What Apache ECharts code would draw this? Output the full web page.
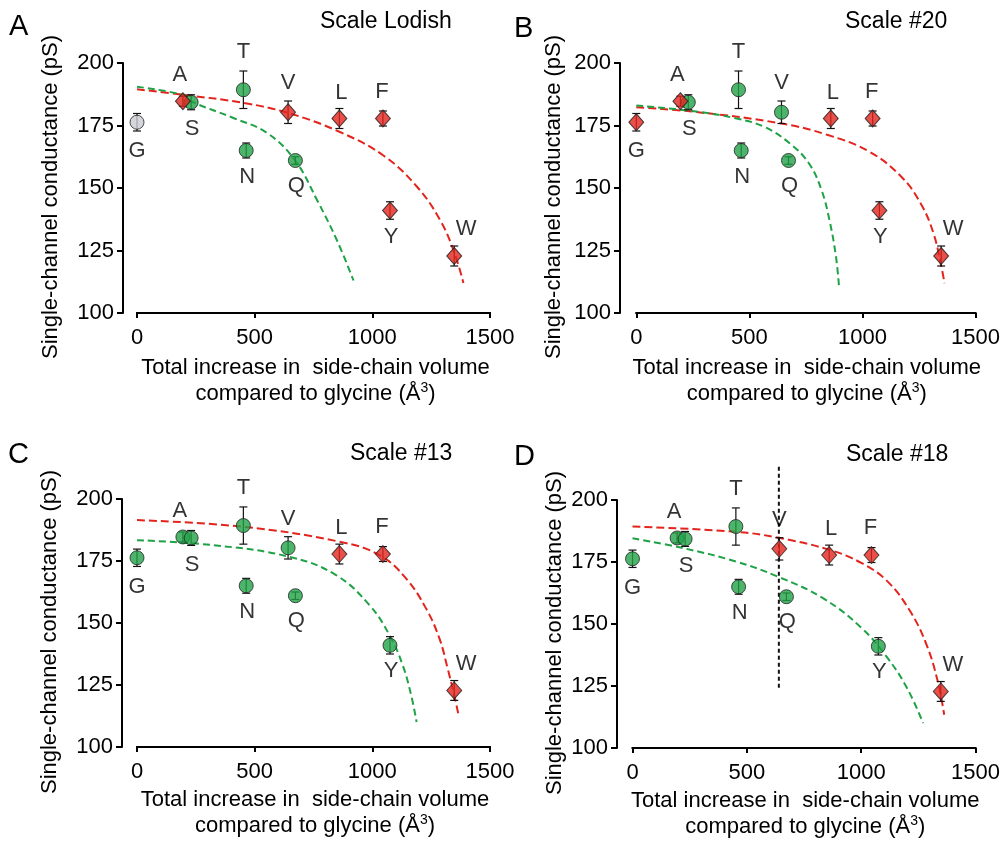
<!DOCTYPE html>
<html>
<head>
<meta charset="utf-8">
<script src="https://cdn.jsdelivr.net/npm/echarts@6/dist/echarts.min.js"></script>
<style>
  html, body { margin: 0; padding: 0; background: #fff; }
  #chart { width: 1003px; height: 842px; }
</style>
</head>
<body>
<div id="chart"></div>
<script>
// residues, side-chain volume increase vs glycine, conductance (pS) and error
const residues = ['G', 'A', 'S', 'T', 'N', 'V', 'Q', 'L', 'F', 'Y', 'W'];
const volume = [0, 195, 230, 452, 464, 642, 673, 860, 1045, 1075, 1348];
const conductance = [176.3, 184.7, 184.3, 189.3, 165, 180.3, 161, 177.8, 177.8, 141, 122.8];
const errBar = [3.5, 2, 3, 7.5, 3, 4.5, 1.5, 4, 3, 3.5, 4];

const xTicks = [0, 500, 1000, 1500];
const yTicks = [100, 125, 150, 175, 200];

// which group every residue falls in for each scale (g green, r red, n grey)
const groupLodish = ['n', 'r', 'g', 'g', 'g', 'r', 'g', 'r', 'r', 'r', 'r'];
const group20 = ['r', 'r', 'g', 'g', 'g', 'g', 'g', 'r', 'r', 'r', 'r'];
const group13 = ['g', 'g', 'g', 'g', 'g', 'g', 'g', 'r', 'r', 'g', 'r'];
const group18 = ['g', 'g', 'g', 'g', 'g', 'r', 'g', 'r', 'r', 'g', 'r'];

// fitted curves, [volume, conductance]
const fitLodishRed = [[0, 189.5], [204, 187.2], [455, 184], [643, 180], [860, 172.5], [1047, 163], [1190, 150.5], [1289, 137], [1349, 124], [1387, 112]];
const fitLodishGreen = [[0, 190.5], [197, 187.2], [234, 184.5], [410, 178], [553, 172], [672, 161], [766, 145], [850, 129], [920, 113]];
const fit20Red = [[0, 182.3], [254, 180.5], [636, 175.9], [847, 171.2], [1031, 164.5], [1172, 154.5], [1257, 143.9], [1314, 131.9], [1349, 118.5], [1363, 111.9]];
const fit20Green = [[0, 183], [254, 180.7], [438, 177.9], [565, 174.5], [678, 167.9], [763, 159.9], [819, 149.2], [854, 137.2], [883, 122.5], [897, 109.9]];
const fit13Red = [[0, 191.5], [450, 188.8], [860, 182.8], [1030, 177.4], [1143, 168], [1228, 155.9], [1285, 143.8], [1320, 131.7], [1348, 120.9], [1365, 113.5]];
const fit13Green = [[0, 183.4], [323, 181.4], [648, 176.7], [846, 169.3], [988, 157.2], [1073, 145.1], [1129, 133], [1165, 120.9], [1188, 110.1]];
const fit18Red = [[0, 189.3], [452, 187.2], [636, 184.8], [862, 179.9], [1003, 174.5], [1116, 167.1], [1215, 155], [1286, 141.6], [1335, 126.8], [1363, 113.4]];
const fit18Green = [[0, 184.6], [226, 180.5], [452, 175.2], [636, 169.1], [833, 160.4], [1003, 148.3], [1116, 136.2], [1201, 124.1], [1271, 110]];
const cutoff18 = [[640, 213.4], [640, 124.2]];

// label placement around each marker, in px
const labelShift = {
  G: [0, 29], A: [-3, -26], S: [1, 27], T: [0, -38], N: [1, 26], V: [0, -29],
  Q: [1, 25], L: [2, -26], F: [-1, -27], Y: [1, 26], W: [12, -27]
};

const FONT = 'Liberation Sans, Arial, Helvetica, sans-serif';
const GREEN = '#1fa246';
const RED = '#e3241d';
const GREY = '#c9ccd3';

// x0: pixel of volume 0, span: pixels from 0 to 1500, gap: y axis sits this far left of x0
const panels = [
  { letter: 'A', title: 'Scale Lodish', group: groupLodish, red: fitLodishRed, green: fitLodishGreen,
    x0: 137, span: 353, gap: 14, top: 63, height: 250, yGap: 61, xGap: 42, titleX: 320, titleY: 10, letterX: 9, letterY: 12 },
  { letter: 'B', title: 'Scale #20', group: group20, red: fit20Red, green: fit20Green,
    x0: 637, span: 354, gap: 17, top: 63, height: 250, yGap: 55, xGap: 42, titleX: 845, titleY: 10, letterX: 514, letterY: 14 },
  { letter: 'C', title: 'Scale #13', group: group13, red: fit13Red, green: fit13Green,
    x0: 137, span: 353, gap: 15, top: 499, height: 248, yGap: 61, xGap: 40, titleX: 350, titleY: 442, letterX: 8, letterY: 440 },
  { letter: 'D', title: 'Scale #18', group: group18, red: fit18Red, green: fit18Green,
    x0: 633, span: 354, gap: 16, top: 500, height: 248, yGap: 51, xGap: 40, titleX: 846, titleY: 443, letterX: 514, letterY: 442 }
];

const titles = [];
const grids = [];
const xAxes = [];
const yAxes = [];
const series = [];

function pointsOf(group, key) {
  const out = [];
  residues.forEach((r, k) => {
    if (group[k] !== key) return;
    out.push({
      value: [volume[k], conductance[k]],
      label: { formatter: r, offset: labelShift[r] }
    });
  });
  return out;
}

const xMax = xTicks[xTicks.length - 1];

panels.forEach((p, i) => {
  titles.push({ text: p.letter, left: p.letterX, top: p.letterY, padding: 0,
    textStyle: { fontFamily: FONT, fontSize: 29, fontWeight: 'normal', color: '#000' } });
  titles.push({ text: p.title, left: p.titleX, top: p.titleY, padding: 0,
    textStyle: { fontFamily: FONT, fontSize: 23, fontWeight: 'normal', color: '#000' } });

  // the grid starts at the y axis, the x axis line only runs from 0 to 1500
  grids.push({ left: p.x0 - p.gap, top: p.top, width: p.span + p.gap, height: p.height, containLabel: false });
  const xMin = -p.gap * (xMax - xTicks[0]) / p.span;

  xAxes.push({
    gridIndex: i,
    type: 'value',
    min: xMin,
    max: xMax,
    axisLine: { show: false },
    axisTick: { length: 5, customValues: xTicks, lineStyle: { color: '#000', width: 2 } },
    axisLabel: { fontFamily: FONT, fontSize: 22, color: '#000', margin: 14, customValues: xTicks, formatter: v => String(v) },
    splitLine: { show: false },
    name: 'Total increase in  side-chain volume\ncompared to glycine (\u00c5{sup|3})',
    nameLocation: 'middle',
    nameGap: p.xGap,
    nameTextStyle: {
      fontFamily: FONT, fontSize: 22, color: '#000', lineHeight: 26, padding: [0, 0, 0, 18],
      rich: { sup: { fontFamily: FONT, fontSize: 14, color: '#000', verticalAlign: 'top', lineHeight: 26, padding: [0, 0, 8, 0] } }
    }
  });

  yAxes.push({
    gridIndex: i,
    type: 'value',
    min: yTicks[0],
    max: yTicks[yTicks.length - 1],
    interval: yTicks[1] - yTicks[0],
    axisLine: { show: true, onZero: false, lineStyle: { color: '#000', width: 2 } },
    axisTick: { show: true, length: 6, lineStyle: { color: '#000', width: 2 } },
    axisLabel: { fontFamily: FONT, fontSize: 22, color: '#000', margin: 9 },
    splitLine: { show: false },
    name: 'Single-channel conductance (pS)',
    nameLocation: 'middle',
    nameGap: p.yGap,
    nameTextStyle: { fontFamily: FONT, fontSize: 22, color: '#000', padding: [0, 18, 0, 0] }
  });

  const lineBase = {
    type: 'line', xAxisIndex: i, yAxisIndex: i, smooth: 0.4, showSymbol: false,
    symbol: 'none', clip: false, z: 1, silent: true
  };

  // x axis line, detached from the y axis
  series.push(Object.assign({}, lineBase, {
    smooth: false, z: 5,
    data: [[xTicks[0], yTicks[0]], [xMax, yTicks[0]]],
    lineStyle: { color: '#000', width: 2, cap: 'square' }
  }));

  series.push(Object.assign({}, lineBase, {
    data: p.red, lineStyle: { color: RED, width: 2, type: [8, 4] }
  }));
  series.push(Object.assign({}, lineBase, {
    data: p.green, lineStyle: { color: GREEN, width: 2, type: [7, 4] }
  }));

  if (p.letter === 'D') {
    series.push(Object.assign({}, lineBase, {
      smooth: false, data: cutoff18, lineStyle: { color: '#111', width: 2, type: [4, 3] }
    }));
  }

  // error bars
  series.push({
    type: 'custom',
    xAxisIndex: i,
    yAxisIndex: i,
    clip: false,
    z: 2,
    silent: true,
    data: residues.map((r, k) => [volume[k], conductance[k], errBar[k]]),
    renderItem: function (params, api) {
      const x = api.value(0), y = api.value(1), e = api.value(2);
      const hi = api.coord([x, y + e]);
      const lo = api.coord([x, y - e]);
      const st = { stroke: '#111', lineWidth: 1.2 };
      return {
        type: 'group',
        children: [
          { type: 'line', shape: { x1: hi[0], y1: hi[1], x2: lo[0], y2: lo[1] }, style: st },
          { type: 'line', shape: { x1: hi[0] - 4, y1: hi[1], x2: hi[0] + 4, y2: hi[1] }, style: st },
          { type: 'line', shape: { x1: lo[0] - 4, y1: lo[1], x2: lo[0] + 4, y2: lo[1] }, style: st }
        ]
      };
    }
  });

  const labelStyle = { show: true, position: 'inside', color: '#000', textBorderWidth: 0,
    fontFamily: FONT, fontSize: 22 };
  const scatterBase = { type: 'scatter', xAxisIndex: i, yAxisIndex: i, clip: false, z: 3, silent: true, label: labelStyle };

  series.push(Object.assign({}, scatterBase, {
    symbol: 'circle', symbolSize: 14,
    itemStyle: { color: GREEN, borderColor: '#222', borderWidth: 1 },
    data: pointsOf(p.group, 'g')
  }));
  series.push(Object.assign({}, scatterBase, {
    symbol: 'diamond', symbolSize: [15, 17],
    itemStyle: { color: RED, borderColor: '#222', borderWidth: 1 },
    data: pointsOf(p.group, 'r')
  }));
  series.push(Object.assign({}, scatterBase, {
    symbol: 'circle', symbolSize: 14,
    itemStyle: { color: GREY, borderColor: '#222', borderWidth: 1 },
    data: pointsOf(p.group, 'n')
  }));
});

const chart = echarts.init(document.getElementById('chart'));
chart.setOption({
  animation: false,
  backgroundColor: '#fff',
  textStyle: { fontFamily: FONT },
  title: titles,
  grid: grids,
  xAxis: xAxes,
  yAxis: yAxes,
  series: series
});
</script>
</body>
</html>
